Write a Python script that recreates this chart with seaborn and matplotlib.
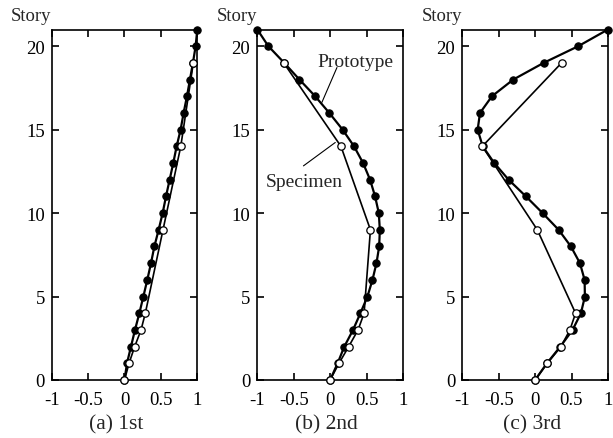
import numpy as np
import pandas as pd
import matplotlib
matplotlib.use("Agg")
import matplotlib.pyplot as plt
import seaborn as sns

sns.set_theme(style="ticks")
plt.rcParams['font.family'] = ['Liberation Serif', 'DejaVu Serif']

stories_proto = list(range(0, 22))
stories_spec = [0, 1, 2, 3, 4, 9, 14, 19]

proto_1st = [0.0, 0.034, 0.089, 0.144, 0.204, 0.259, 0.313, 0.364, 0.410, 0.469, 0.524,
             0.570, 0.620, 0.670, 0.716, 0.771, 0.812, 0.858, 0.899, 0.94, 0.977, 1.0]
spec_1st = [0.0, 0.062, 0.14, 0.227, 0.286, 0.529, 0.773, 0.945]

proto_2nd = [0.0, 0.103, 0.195, 0.315, 0.416, 0.513, 0.582, 0.637, 0.674, 0.683, 0.669,
             0.618, 0.549, 0.453, 0.329, 0.172, -0.011, -0.205, -0.421, -0.63, -0.848, -1.0]
spec_2nd = [0.0, 0.122, 0.255, 0.384, 0.467, 0.554, 0.149, -0.637]

proto_3rd = [0.0, 0.162, 0.346, 0.515, 0.629, 0.684, 0.680, 0.616, 0.492, 0.323, 0.103,
             -0.126, -0.364, -0.561, -0.72, -0.789, -0.757, -0.593, -0.300, 0.117, 0.593, 1.0]
spec_3rd = [0.0, 0.167, 0.355, 0.478, 0.556, 0.030, -0.725, 0.364]

captions = ["(a) 1st", "(b) 2nd", "(c) 3rd"]
caption_x = [0.44, 0.475, 0.482]
xticks = [-1, -0.5, 0, 0.5, 1]
xticklabels = ["-1", "-0.5", "0", "0.5", "1"]
yticks = [0, 5, 10, 15, 20]

W, H = 613, 439
fig = plt.figure(figsize=(W / 100, H / 100), dpi=100)
lefts = [51.7, 257.3, 462.3]
ax_w = 145.6
bottom_px, top_px = 381, 30.5

protos = [proto_1st, proto_2nd, proto_3rd]
specs = [spec_1st, spec_2nd, spec_3rd]

for i in range(3):
    ax = fig.add_axes([lefts[i] / W, 1 - bottom_px / H, ax_w / W, (bottom_px - top_px) / H])
    dp = pd.DataFrame({"x": protos[i], "story": stories_proto})
    ds = pd.DataFrame({"x": specs[i], "story": stories_spec})
    sns.lineplot(data=dp, x="x", y="story", sort=False, estimator=None, ax=ax,
                 color="black", linewidth=1.6, marker="o", markersize=5.3,
                 markerfacecolor="black", markeredgecolor="black", zorder=3,
                 clip_on=False)
    sns.lineplot(data=ds, x="x", y="story", sort=False, estimator=None, ax=ax,
                 color="black", linewidth=1.2, marker="o", markersize=5.3,
                 markerfacecolor="white", markeredgecolor="black", markeredgewidth=0.9,
                 zorder=4, clip_on=False)
    ax.set_xlim(-1, 1)
    ax.set_ylim(0, 21)
    ax.set_xticks(xticks)
    ax.set_xticklabels(xticklabels)
    ax.set_yticks(yticks)
    ax.set_xlabel("")
    ax.set_ylabel("")
    ax.tick_params(direction="in", top=True, right=True, length=5, width=1.2,
                   labelsize=13.5, colors="black", pad=5)
    ax.tick_params(axis="x", pad=8)
    for s in ax.spines.values():
        s.set_linewidth(1.2)
        s.set_color("black")
    ax.text(0, 1 + 14 / (bottom_px - top_px), "Story", transform=ax.transAxes,
            ha="right", va="center", fontsize=13.5)
    ax.text(caption_x[i], -44 / (bottom_px - top_px), captions[i], transform=ax.transAxes,
            ha="center", va="center", fontsize=15.5)
    if i == 1:
        ax.text(0.354, 19.1, "Prototype", ha="center", va="center", fontsize=14)
        ax.plot([0.094, -0.113], [18.72, 16.63], color="black", linewidth=0.8)
        ax.text(-0.35, 11.88, "Specimen", ha="center", va="center", fontsize=14)
        ax.plot([-0.366, 0.071], [12.83, 14.23], color="black", linewidth=0.8)

fig.savefig("out.png", dpi=100)
